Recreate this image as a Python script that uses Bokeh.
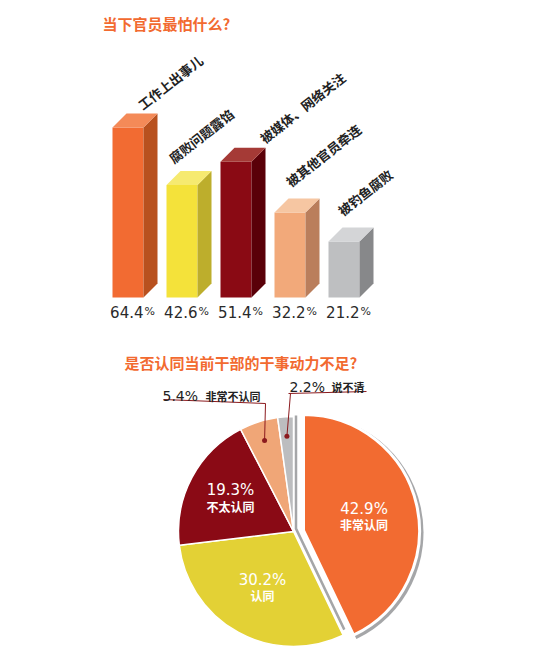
import math
from bokeh.plotting import figure
from bokeh.layouts import column
from bokeh.models import Range1d
from bokeh.core.properties import value
from bokeh.embed import file_html
from bokeh.resources import INLINE

# --- data ---
bar_title = "当下官员最怕什么?"
fears = ["工作上出事儿", "腐败问题露馅", "被媒体、网络关注", "被其他官员牵连", "被钓鱼腐败"]
fear_pct = [64.4, 42.6, 51.4, 32.2, 21.2]

pie_title = "是否认同当前干部的干事动力不足?"
attitudes = ["非常认同", "认同", "不太认同", "非常不认同", "说不清"]
attitude_pct = [42.9, 30.2, 19.3, 5.4, 2.2]

# --- styles ---
CJK = value("Noto Sans CJK SC")
NUM = value("DejaVu Sans")
ORANGE = "#F26A30"
front_c = ["#F26B32", "#F4E23A", "#8A0A14", "#F2A97A", "#BEBFC1"]
side_c = ["#B8511F", "#BDAE2C", "#5A0008", "#BA7E5C", "#87888A"]
top_c = ["#F48A58", "#F6EA70", "#A53A36", "#F6C6A2", "#D4D5D7"]
pie_c = ["#F26B31", "#E3D135", "#8A0A15", "#F0A677", "#BCBDBF"]
RIM = "#A5A6A8"
# per-label nudges (px) from bar's left / top face
nudge = [(27, 7), (4, 11), (41, 8), (13, 15), (11, 15)]
# label distance from centre, as share of radius
label_r = [0.54, 0.56, 0.62]

W = 529

# ---------------- bar chart ----------------
H1 = 330
PY = 2.64   # px per percent
PX = 54.0   # px per category
BASE = 297  # baseline, px from top
X0 = 127.5  # first bar centre, px from left

p1 = figure(width=W, height=H1, output_backend="svg", toolbar_location=None,
            x_range=Range1d(-X0 / PX, (W - X0) / PX),
            y_range=Range1d(-(H1 - BASE) / PY, BASE / PY),
            min_border=0)
p1.axis.visible = False
p1.grid.visible = False
p1.outline_line_color = None

half = 15.5 / PX
dx = 14 / PX
dy = 14 / PY
idx = list(range(len(fears)))

p1.quad(left=[i - half for i in idx], right=[i + half for i in idx],
        bottom=0, top=fear_pct, fill_color=front_c, line_color=None)
p1.patches(xs=[[i + half, i + half + dx, i + half + dx, i + half] for i in idx],
           ys=[[0, dy, v + dy, v] for v in fear_pct],
           fill_color=side_c, line_color=None)
p1.patches(xs=[[i - half, i - half + dx, i + half + dx, i + half] for i in idx],
           ys=[[v, v + dy, v + dy, v] for v in fear_pct],
           fill_color=top_c, line_color=None)

p1.text(x=[i - half + nudge[i][0] / PX for i in idx],
        y=[v + dy + nudge[i][1] / PY for i, v in enumerate(fear_pct)],
        text=fears, angle=math.radians(38), text_font=CJK, text_font_style="bold",
        text_font_size="13px", text_color="#222222",
        text_align="left", text_baseline="alphabetic")

p1.text(x=[i + half for i in idx], y=[-14 / PY] * len(idx),
        text=[f"{v:.1f}" for v in fear_pct], text_font=NUM, text_font_size="15px",
        text_color="#2a2a2a", text_align="right", text_baseline="alphabetic")
p1.text(x=[i + half + 1 / PX for i in idx], y=[-14 / PY] * len(idx),
        text=["%"] * len(idx), text_font=NUM, text_font_size="11px",
        text_color="#2a2a2a", text_align="left", text_baseline="alphabetic")

p1.text(x=[(102 - X0) / PX], y=[(BASE - 23) / PY], text=[bar_title], text_font=CJK,
        text_font_style="bold", text_font_size="15px", text_color=ORANGE,
        text_align="left", text_baseline="middle")

# ---------------- pie chart ----------------
H2 = 330
p2 = figure(width=W, height=H2, output_backend="svg", toolbar_location=None,
            x_range=Range1d(0, W), y_range=Range1d(0, H2), min_border=0)
p2.axis.visible = False
p2.grid.visible = False
p2.outline_line_color = None


def Y(ref_y):
    return 660 - ref_y


cx, cy, R = 293, Y(531), 115
starts, ends = [], []
a = math.pi / 2
for v in attitude_pct:
    starts.append(a)
    a -= v / 100 * 2 * math.pi
    ends.append(a)
mids = [(s + e) / 2 for s, e in zip(starts, ends)]

# the rest of the pie
p2.wedge(x=cx, y=cy, radius=R, start_angle=starts[1:], end_angle=ends[1:],
         direction="clock", fill_color=pie_c[1:], line_color="white", line_width=1.5)

# pulled-out slice with a thin grey rim
ox, oy, Ro = 303, Y(530), 116
p2.wedge(x=ox + 2, y=oy - 2, radius=Ro + 2, start_angle=starts[0], end_angle=ends[0],
         direction="clock", fill_color=RIM, line_color=None)
ux, uy = math.cos(ends[0]), math.sin(ends[0])
nx, ny = -uy, ux  # normal pointing away from the yellow slice
sx = cx + 2.5
sy = cy + 3.5 * ny + (sx - cx - 3.5 * nx) / ux * uy
p2.line(x=[sx, sx, sx + 112 * ux], y=[Y(415), sy, sy + 112 * uy],
        line_color=RIM, line_width=2.5, line_join="miter")
p2.wedge(x=ox, y=oy, radius=Ro, start_angle=starts[0], end_angle=ends[0],
         direction="clock", fill_color=pie_c[0], line_color="white", line_width=3)

# labels inside the big slices
lx, ly = [], []
for k in range(3):
    bx, by = (ox, oy) if k == 0 else (cx, cy)
    r = R * label_r[k]
    lx.append(bx + r * math.cos(mids[k]))
    ly.append(by + r * math.sin(mids[k]))
p2.text(x=lx, y=[v + 8 for v in ly], text=[f"{v}%" for v in attitude_pct[:3]],
        text_font=NUM, text_font_size="15px", text_color="white",
        text_align="center", text_baseline="middle")
p2.text(x=lx, y=[v - 8 for v in ly], text=attitudes[:3], text_font=CJK,
        text_font_style="bold", text_font_size="12px", text_color="white",
        text_align="center", text_baseline="middle")

# callouts for the small slices
dots_x = [cx + R * 0.83 * math.cos(m) for m in mids[3:]]
dots_y = [cy + R * 0.83 * math.sin(m) for m in mids[3:]]
LINE = "#8B1A1E"
p2.line(x=[163, 265, dots_x[0]], y=[Y(399), Y(403), dots_y[0]], line_color=LINE, line_width=1)
p2.line(x=[288, 366], y=[Y(393), Y(391)], line_color=LINE, line_width=1)
p2.line(x=[290, dots_x[1]], y=[Y(393), dots_y[1]], line_color=LINE, line_width=1)
p2.scatter(x=dots_x, y=dots_y, size=5, fill_color=LINE, line_color=None)

p2.text(x=[162, 289], y=[Y(395), Y(386)], text=[f"{v}%" for v in attitude_pct[3:]],
        text_font=NUM, text_font_size="14px", text_color="#222222",
        text_align="left", text_baseline="alphabetic")
p2.text(x=[205, 331], y=[Y(395), Y(386)], text=attitudes[3:], text_font=CJK,
        text_font_style="bold", text_font_size="11px", text_color="#222222",
        text_align="left", text_baseline="alphabetic")

p2.text(x=[124], y=[Y(362)], text=[pie_title], text_font=CJK, text_font_style="bold",
        text_font_size="15px", text_color=ORANGE, text_align="left", text_baseline="middle")

layout = column(p1, p2, spacing=0)
open("out.html", "w").write(file_html(layout, INLINE))
